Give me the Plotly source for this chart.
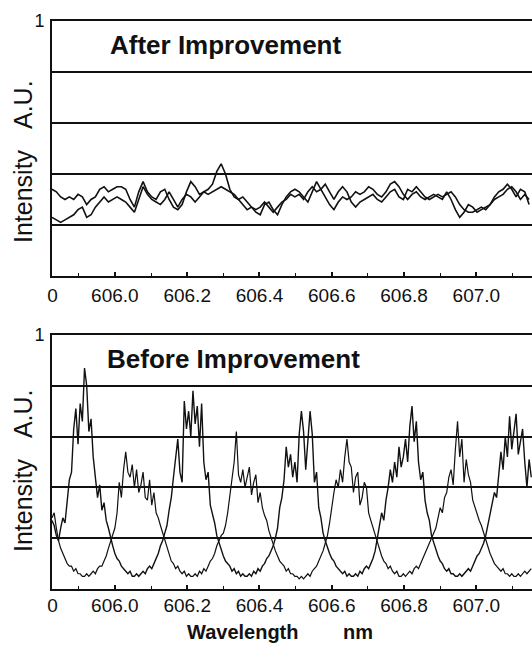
import plotly.graph_objects as go

# ---------------- data ----------------
WL_START = 605.826          # nm, left edge of both scans
STEP_AFTER = 0.012          # nm per sample (upper panel)
STEP_BEFORE = 0.006         # nm per sample (lower panel)

after_a = [.34, .33, .31, .30, .31, .30, .32, .31, .28, .30,
           .31, .34, .35, .33, .34, .35, .35, .34, .30, .27,
           .33, .37, .33, .31, .30, .33, .34, .30, .27, .26,
           .28, .33, .37, .35, .32, .33, .34, .36, .41, .44,
           .40, .34, .31, .30, .31, .29, .27, .25, .24, .28,
           .29, .26, .24, .28, .31, .33, .34, .33, .31, .29,
           .33, .37, .34, .31, .28, .26, .29, .31, .30, .31,
           .33, .32, .33, .35, .34, .32, .31, .33, .36, .37,
           .35, .32, .30, .32, .33, .31, .30, .31, .32, .31,
           .30, .33, .30, .26, .23, .25, .28, .27, .25, .26,
           .27, .28, .31, .33, .34, .36, .34, .31, .34, .33, .28]

after_b = [.23, .22, .21, .22, .23, .24, .26, .27, .23, .24,
           .27, .29, .31, .29, .30, .31, .30, .29, .27, .25,
           .30, .35, .32, .30, .29, .28, .30, .33, .30, .27,
           .30, .32, .31, .29, .31, .33, .32, .33, .34, .35,
           .34, .33, .32, .30, .28, .26, .27, .26, .27, .29,
           .27, .25, .27, .29, .30, .32, .31, .32, .30, .33,
           .35, .33, .34, .36, .33, .30, .33, .35, .33, .29,
           .27, .29, .30, .31, .32, .30, .29, .31, .33, .34,
           .31, .30, .34, .33, .35, .33, .31, .30, .31, .32,
           .31, .32, .33, .31, .28, .26, .25, .25, .26, .27,
           .26, .28, .30, .31, .32, .34, .35, .33, .30, .32, .30]

before_a = [.27, .25, .21, .19, .24, .28, .26, .34, .43, .46, .63, .71, .57, .73,
            .66, .87, .80, .62, .67, .52, .43, .36, .41, .31, .34, .27, .24, .20,
            .17, .14, .12, .11, .09, .08, .07, .06, .07, .05, .05, .06, .05, .06,
            .07, .06, .08, .09, .08, .10, .12, .14, .17, .19, .22,
            .25, .31, .36, .44, .52, .59, .46, .42, .74, .63, .70, .60, .78, .65,
            .72, .56, .73, .50, .43, .46, .33, .30, .26, .21, .18,
            .15, .13, .11, .10, .09, .07, .08, .06, .07, .05, .06, .05, .05, .06,
            .05, .07, .06, .08, .07, .09, .10, .12, .13, .15, .17, .20,
            .24, .32, .36, .43, .56, .48, .53, .44, .50, .42, .61, .70, .62, .47,
            .58, .70, .61, .42, .46, .32, .28, .22, .19, .16, .14,
            .12, .11, .09, .08, .07, .06, .07, .05, .06, .05, .05, .06, .05, .07,
            .06, .08, .09, .08, .10, .12, .15,
            .20, .25, .30, .27, .35, .40, .47, .42, .50, .44, .56, .48, .52, .59,
            .50, .64, .72, .58, .66, .50, .43, .46, .35, .30, .27, .21, .18,
            .15, .13, .11, .10, .08, .07, .08, .06, .06, .05, .05, .06, .05, .06,
            .07, .08, .07, .09, .11, .13, .14, .16, .18, .21,
            .25, .29, .33, .38, .36, .45, .54, .47, .60, .52, .68, .55, .62, .69,
            .53, .58, .63, .50, .40, .51, .44]

before_b = [.28, .30, .24, .19, .16, .14, .12, .10, .09, .09, .07, .08, .06, .06,
            .05, .05, .06, .05, .06, .07, .06, .08, .09, .09, .11, .13, .16, .19,
            .21, .24, .30, .42, .36, .47, .54, .46, .44, .49, .40, .47, .38, .41,
            .46, .36, .35, .43, .33, .38, .30, .28, .25, .22,
            .19, .16, .13, .11, .10, .08, .09, .07, .06, .07, .05, .06, .05, .05,
            .06, .05, .07, .06, .08, .07, .09, .11, .12, .14, .17, .19,
            .21, .22, .25, .30, .36, .44, .50, .62, .45, .42, .47, .40, .44, .48,
            .37, .42, .45, .34, .38, .32, .29, .27, .23, .20, .18,
            .15, .13, .11, .10, .09, .07, .08, .06, .06, .05, .05, .04, .05, .04,
            .05, .06, .05, .07, .08, .09, .11, .13, .15, .18,
            .21, .26, .33, .38, .43, .40, .47, .42, .52, .59, .50, .48, .38, .44,
            .46, .33, .36, .42, .40, .30, .27, .24, .21,
            .18, .15, .13, .11, .10, .08, .09, .07, .06, .07, .05, .05, .06, .05,
            .06, .07, .06, .08, .09, .08, .10, .12, .14, .16, .18, .20,
            .22, .24, .28, .32, .30, .36, .38, .44, .47, .41, .55, .66, .52, .59,
            .42, .51, .45, .42, .35, .32, .30, .27, .25, .22, .19,
            .16, .14, .12, .10, .09, .08, .07, .08, .06, .06, .05, .06, .05, .05,
            .06, .05, .06, .07, .06, .07, .08]

x_tick_vals = [605.8275, 606.0, 606.2, 606.4, 606.6, 606.8, 607.0]
x_tick_text = ["0", "606.0", "606.2", "606.4", "606.6", "606.8", "607.0"]
y_tick_vals = [0.2, 0.4, 0.6, 0.8, 1.0]
y_tick_text = ["", "", "", "", "1"]

panel_titles = ["After Improvement", "Before Improvement"]
y_title = "Intensity&nbsp;&nbsp;&nbsp;A.U."
x_title = "Wavelength&nbsp;&nbsp;&nbsp;&nbsp;&nbsp;&nbsp;&nbsp;&nbsp;nm"


def wavelengths(values, step):
    return [round(WL_START + i * step, 4) for i in range(len(values))]


# ---------------- figure ----------------
INK = "#111111"
FONT = "Liberation Sans"

fig = go.Figure()
for ys in (after_a, after_b):
    fig.add_trace(go.Scatter(x=wavelengths(ys, STEP_AFTER), y=ys, mode="lines",
                             line=dict(color=INK, width=1.6), xaxis="x", yaxis="y",
                             hoverinfo="skip"))
fig.add_trace(go.Scatter(x=wavelengths(before_a, STEP_BEFORE), y=before_a, mode="lines",
                         line=dict(color=INK, width=1.4), xaxis="x2", yaxis="y2",
                         hoverinfo="skip"))
fig.add_trace(go.Scatter(x=wavelengths(before_b, STEP_BEFORE), y=before_b, mode="lines",
                         line=dict(color=INK, width=1.2), xaxis="x2", yaxis="y2",
                         hoverinfo="skip"))

X_RANGE = [605.826, 607.154]

xaxis_common = dict(
    range=X_RANGE, tickmode="array", tickvals=x_tick_vals, ticktext=x_tick_text,
    showline=True, linecolor=INK, linewidth=2, mirror=True,
    ticks="inside", ticklen=4, tickwidth=1.5, tickcolor=INK,
    minor=dict(tickmode="linear", tick0=606.0, dtick=0.1, ticks="inside",
               ticklen=3, tickwidth=1.2, tickcolor=INK, showgrid=False),
    tickfont=dict(family=FONT, size=19, color=INK),
    showgrid=False, zeroline=False,
)
yaxis_common = dict(
    range=[0, 1], tickmode="array", tickvals=y_tick_vals, ticktext=y_tick_text,
    showgrid=True, gridcolor=INK, gridwidth=1.7,
    showline=True, linecolor=INK, linewidth=2, mirror=False,
    ticks="", tickfont=dict(family=FONT, size=18, color=INK),
    zeroline=False, ticklabelstandoff=2,
)

fig.update_layout(
    width=532, height=646,
    margin=dict(l=52, r=0, t=21, b=57),
    paper_bgcolor="white", plot_bgcolor="white",
    showlegend=False,
    xaxis=dict(domain=[0, 1], anchor="y", ticklabelstandoff=1, **xaxis_common),
    yaxis=dict(domain=[0.5511, 1], anchor="x", **yaxis_common),
    xaxis2=dict(domain=[0, 1], anchor="y2", ticklabelstandoff=-2, **xaxis_common),
    yaxis2=dict(domain=[0, 0.4472], anchor="x2", **yaxis_common),
)

annotations = [
    dict(text="<b>" + panel_titles[0] + "</b>", xref="paper", yref="paper",
         x=0.3615, y=0.958, xanchor="center", yanchor="middle", showarrow=False,
         font=dict(family=FONT, size=26, color=INK)),
    dict(text="<b>" + panel_titles[1] + "</b>", xref="paper", yref="paper",
         x=0.379, y=0.405, xanchor="center", yanchor="middle", showarrow=False,
         font=dict(family=FONT, size=26, color=INK)),
    dict(text=y_title, xref="paper", yref="paper", x=-0.0604, y=0.7518,
         xanchor="center", yanchor="middle", textangle=-90, showarrow=False,
         font=dict(family=FONT, size=25, color=INK)),
    dict(text=y_title, xref="paper", yref="paper", x=-0.0604, y=0.2077,
         xanchor="center", yanchor="middle", textangle=-90, showarrow=False,
         font=dict(family=FONT, size=25, color=INK)),
    dict(text="<b>" + x_title + "</b>", xref="paper", yref="paper",
         x=0.475, y=-0.0755, xanchor="center", yanchor="middle", showarrow=False,
         font=dict(family=FONT, size=20, color=INK)),
]
fig.update_layout(annotations=annotations)

fig.write_html("out.html")
